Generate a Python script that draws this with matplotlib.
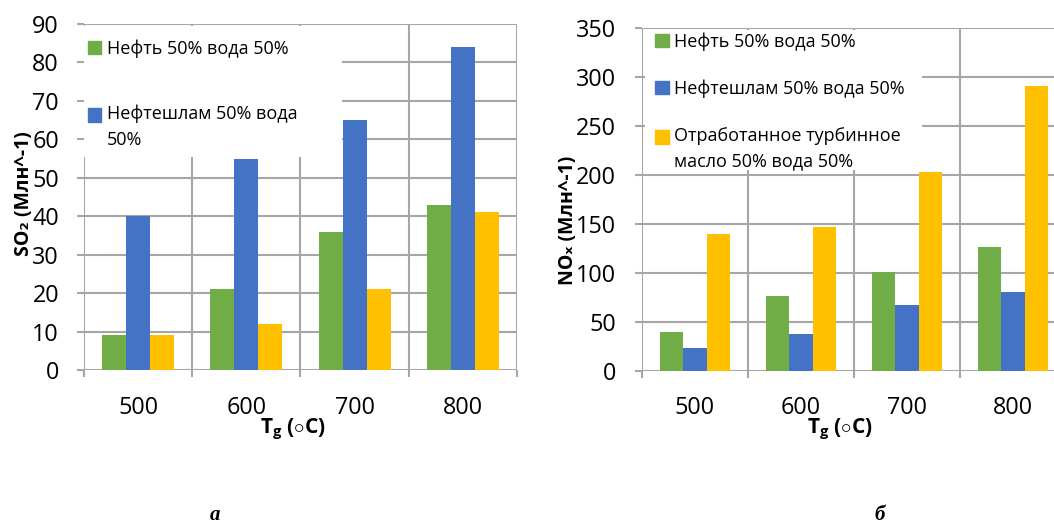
import numpy as np
import matplotlib
matplotlib.use("Agg")
from matplotlib import pyplot as plt
from matplotlib.patches import Rectangle
from matplotlib.legend_handler import HandlerPatch

plt.rcParams['font.family'] = ['Open Sans', 'DejaVu Sans']
plt.rcParams['mathtext.fontset'] = 'custom'
plt.rcParams['mathtext.rm'] = 'Open Sans'
plt.rcParams['mathtext.bf'] = 'Open Sans:bold'

temps = ['500', '600', '700', '800']
series_names = ['Нефть 50% вода 50%',
                'Нефтешлам 50% вода 50%',
                'Отработанное турбинное масло 50% вода 50%']
so2_oil = [9, 21, 36, 43]
so2_sludge = [40, 55, 65, 84]
so2_turbine = [9, 12, 21, 41]
nox_oil = [40, 76, 101, 126]
nox_sludge = [23, 38, 67, 80]
nox_turbine = [140, 147, 203, 291]

colors = ['#70AD47', '#4472C4', '#FFC000']
grid_c = '#a6a6a6'
W = 0.222


def top_line_square(legend, orig_handle, xdescent, ydescent, width, height,
                    fontsize):
    # marker next to the first line of a wrapped label, like Excel does
    return Rectangle((-xdescent, -ydescent + 9), width, height)


def draw_panel(ax, series, ymax, ystep, ylabel, legend_labels, legend_rect,
               legend_xy, ylab_xy, xlab_xy, spacing, ypad):
    x = np.arange(len(temps))
    for i, vals in enumerate(series):
        ax.bar(x + (i - 1) * W, vals, W, color=colors[i], zorder=2)
    ax.set_xlim(-0.5, len(temps) - 0.5)
    ax.set_ylim(0, ymax)
    ax.set_yticks(np.arange(0, ymax + 1, ystep))
    ax.set_xticks(x)
    ax.set_xticklabels(temps)
    ax.set_xticks(np.arange(-0.5, len(temps), 1.0), minor=True)
    ax.set_axisbelow(True)
    ax.grid(axis='y', which='major', color=grid_c, lw=1.5)
    ax.grid(axis='x', which='minor', color=grid_c, lw=1.5)
    for s in ax.spines.values():
        s.set_visible(False)
    ax.tick_params(axis='x', which='major', length=0, pad=18.5, labelsize=16.8)
    ax.tick_params(axis='x', which='minor', length=5, width=1.5, color=grid_c)
    ax.tick_params(axis='y', length=5, width=1.5, color=grid_c, pad=ypad,
                   labelsize=16.8)
    ax.set_ylabel(ylabel, fontsize=14, fontweight='bold', labelpad=0)
    ax.yaxis.set_label_coords(*ylab_xy)
    ax.set_xlabel(r'$\mathbf{T_g}$ ($\circ$C)', fontsize=15, fontweight='bold')
    ax.xaxis.set_label_coords(*xlab_xy)
    x0, y0, w, h = legend_rect
    ax.add_patch(Rectangle((x0, y0), w, h, transform=ax.transAxes,
                           facecolor='white', edgecolor='none', zorder=1))
    handles = [Rectangle((0, 0), 1, 1, color=colors[i])
               for i in range(len(legend_labels))]
    hmap = {h: HandlerPatch(patch_func=top_line_square)
            for h, lab in zip(handles, legend_labels) if '\n' in lab}
    leg = ax.legend(handles, legend_labels, handler_map=hmap,
                    loc='upper left', bbox_to_anchor=legend_xy, frameon=False,
                    fontsize=13, handlelength=0.75, handleheight=0.75,
                    handletextpad=0.3, labelspacing=spacing,
                    borderaxespad=0, borderpad=0)
    for t in leg.get_texts():
        t.set_linespacing(1.55)


fig = plt.figure(figsize=(10.54, 5.25), dpi=100)
ax1 = fig.add_axes([0.0797, 0.2952, 0.4108, 0.6591])
ax2 = fig.add_axes([0.6091, 0.2939, 0.4023, 0.6522])

draw_panel(ax1, [so2_oil, so2_sludge, so2_turbine], 90, 10,
           'SO₂ (Млн^-1)',
           [series_names[0], 'Нефтешлам 50% вода\n50%'],
           (0.0, 0.616, 0.596, 0.378), (0.009, 0.956),
           (-0.115, 0.51), (0.483, -0.136), 2.6, 13)
draw_panel(ax2, [nox_oil, nox_sludge, nox_turbine], 350, 50,
           'NOₓ (Млн^-1)',
           [series_names[0], series_names[1],
            'Отработанное турбинное\nмасло 50% вода 50%'],
           (0.006, 0.586, 0.655, 0.409), (0.031, 0.989),
           (-0.152, 0.44), (0.467, -0.136), 1.6, 13.5)

fig.text(0.204, 0.02, 'а', family='Liberation Serif', style='italic',
         fontweight='bold', fontsize=15, ha='center', va='center')
fig.text(0.835, 0.02, 'б', family='Liberation Serif', style='italic',
         fontweight='bold', fontsize=15, ha='center', va='center')

fig.savefig('out.png', dpi=100)
